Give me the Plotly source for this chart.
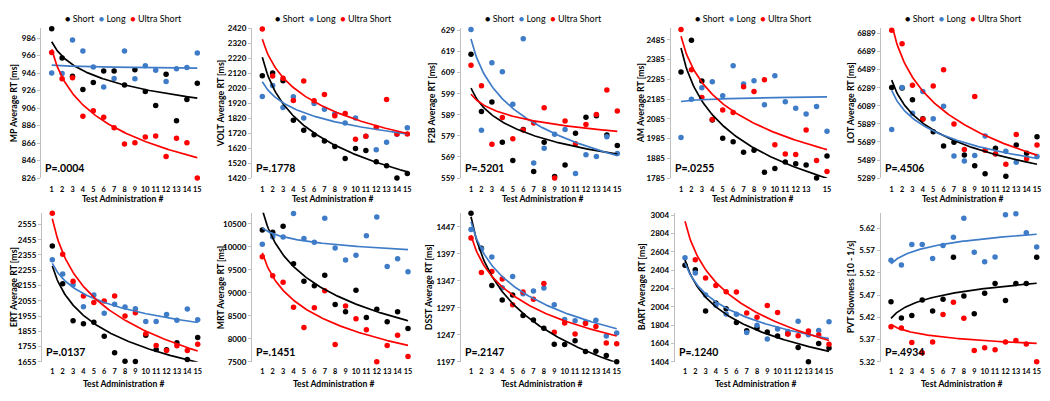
import numpy as np
import plotly.graph_objects as go

# ---------------- data ----------------
admin = list(range(1, 16))
series_names = ["Short", "Long", "Ultra Short"]

mp_short = [996.5, 963.3, 942.4, 927.1, 935.3, 948.3, 948.3, 932.3, 949.8, 924.8, 908.8, 944.6, 891.6, 915.9, 934.2]
mp_long = [946.1, 945.4, 983.8, 971.1, 952.8, 930.1, 939.8, 971.1, 939.4, 954.3, 949.1, 936.4, 951.0, 952.4, 968.9]
mp_ultra = [969.6, 939.4, 940.5, 896.5, 902.8, 895.4, 883.4, 864.8, 866.3, 873.0, 874.1, 850.6, 871.5, 866.3, 826.0]

volt_short = [2104, 2122, 2070, 1806, 1740, 1710, 1668, 1631, 1551, 1618, 1605, 1529, 1503, 1420, 1450]
volt_long = [1965, 2039, 1891, 1963, 1821, 1919, 1880, 1849, 1788, 1821, 1699, 1610, 1660, 1712, 1756]
volt_ultra = [2416, 2102, 2087, 1939, 2069, 1936, 1978, 1836, 1851, 1679, 1699, 1758, 1945, 1714, 1714]

f2b_short = [617.7, 590.6, 595.1, 576.0, 567.3, 582.0, 562.1, 576.0, 559.8, 565.2, 580.3, 587.8, 588.6, 579.4, 574.4]
f2b_long = [629.5, 581.7, 613.7, 609.4, 594.0, 625.1, 566.1, 573.2, 579.8, 582.1, 561.2, 570.1, 569.2, 578.6, 570.7]
f2b_ultra = [612.5, 602.8, 575.0, 587.7, 577.7, 581.8, 585.1, 592.3, 559.0, 586.1, 575.3, 584.4, 589.2, 600.8, 590.8]

am_short = [2322, 2483, 2276, 2079, 1987, 1969, 1916, 1926, 1815, 1833, 1867, 1857, 1851, 1785, 1897]
am_long = [1990, 2184, 2243, 2273, 2202, 2354, 2262, 2278, 2156, 2303, 2171, 2138, 2110, 2147, 2022]
am_ultra = [2538, 2334, 2193, 2082, 2130, 2117, 2248, 2224, 2283, 1954, 1907, 1905, 2028, 1874, 1818]

lot_short = [6291, 6285, 6155, 5945, 5801, 5643, 5686, 5543, 5425, 5336, 5618, 5310, 5654, 5565, 5747]
lot_long = [5826, 6291, 6005, 6248, 5944, 6084, 5532, 5479, 5540, 5754, 5557, 5586, 5464, 5285, 5529]
lot_ultra = [6925, 6774, 6316, 5940, 6309, 6488, 5887, 5604, 6191, 5597, 5554, 5443, 5772, 5504, 5654]

ert_short = [2414, 2166, 1924, 1905, 1914, 1822, 1715, 1659, 1657, 1830, 1736, 1734, 1781, 1670, 1815]
ert_long = [2324, 2230, 2160, 2016, 2093, 1974, 2033, 2014, 2003, 1920, 1920, 1965, 1927, 2001, 1931]
ert_ultra = [2628, 2360, 2183, 2087, 2044, 2053, 2087, 1956, 1976, 1839, 1762, 1730, 1760, 1730, 1770]

mrt_short = [10366, 10317, 10444, 9629, 9249, 9151, 9383, 8744, 8589, 9053, 8463, 8645, 8371, 8589, 8224]
mrt_long = [10057, 10219, 10212, 10725, 10177, 10100, 10619, 9973, 9713, 9818, 10240, 10648, 9573, 9741, 9460]
mrt_ultra = [9783, 9369, 9228, 8687, 8245, 8673, 9046, 7879, 8715, 8434, 8196, 7500, 7858, 8076, 7619]

dsst_short = [1472, 1407, 1338.5, 1311.5, 1320.5, 1282.7, 1274.3, 1259.4, 1229.4, 1229, 1236, 1216.2, 1216.8, 1209, 1197]
dsst_long = [1442, 1406, 1391, 1334, 1355, 1323, 1328, 1333.7, 1302.5, 1275.5, 1273, 1270, 1274, 1245, 1250.4]
dsst_ultra = [1426, 1362.5, 1364, 1350.5, 1302.5, 1326.5, 1312.7, 1342, 1251.6, 1269, 1248.6, 1268, 1262.3, 1231.8, 1230.6]

bart_short = [2458, 2408, 1958, 2047, 1983, 1833, 1743, 1772, 1729, 1686, 1711, 1561, 1404, 1604, 1554]
bart_long = [2540, 2372, 2133, 2022, 1925, 1922, 1725, 1804, 1654, 1761, 1736, 1847, 1700, 1747, 1840]
bart_ultra = [3040, 2518, 2318, 2236, 2168, 2165, 1936, 1890, 2018, 1943, 1708, 1690, 1740, 1697, 1597]

pvt_short = [5.4548, 5.4186, 5.4243, 5.4591, 5.4345, 5.4606, 5.5548, 5.4678, 5.4280, 5.4743, 5.4961, 5.4577, 5.4961, 5.4961, 5.5548]
pvt_long = [5.5483, 5.5374, 5.5838, 5.5838, 5.5519, 5.5816, 5.5997, 5.6425, 5.5664, 5.5446, 5.5555, 5.6504, 5.6526, 5.6099, 5.5780]
pvt_ultra = [5.3990, 5.3961, 5.3635, 5.3403, 5.3649, 5.4265, 5.4540, 5.4178, 5.3454, 5.3519, 5.3475, 5.3649, 5.3678, 5.3599, 5.3200]

y_titles = ["MP Average RT [ms]", "VOLT Average RT [ms]", "F2B Average RT [ms]", "AM Average RT [ms]",
            "LOT Average RT [ms]", "ERT Average RT [ms]", "MRT Average RT [ms]", "DSST Average RT [ms]",
            "BART Average RT [ms]", "PVT Slowness [10 - 1/s]"]
p_values = ["P=.0004", "P=.1778", "P=.5201", "P=.0255", "P=.4506",
            "P=.0137", "P=.1451", "P=.2147", "P=.1240", "P=.4934"]
x_title = "Test Administration #"

all_data = [
    (mp_short, mp_long, mp_ultra), (volt_short, volt_long, volt_ultra), (f2b_short, f2b_long, f2b_ultra),
    (am_short, am_long, am_ultra), (lot_short, lot_long, lot_ultra), (ert_short, ert_long, ert_ultra),
    (mrt_short, mrt_long, mrt_ultra), (dsst_short, dsst_long, dsst_ultra), (bart_short, bart_long, bart_ultra),
    (pvt_short, pvt_long, pvt_ultra),
]

# ---------------- layout / style ----------------
W, H = 1050, 401
FONT = "Lato, 'Liberation Sans', Arial, sans-serif"
colors = ["#000000", "#3F7CC8", "#FF0000"]

# axis scale settings (min, max, step, format)
y_axes = [(826, 997, 20, "d"), (1420, 2420, 100, "d"), (559, 630, 10, "d"), (1785, 2543, 100, "d"),
          (5289, 6945, 200, "d"), (1655, 2632, 100, "d"), (7500, 10740, 500, "d"), (1197, 1473, 50, "d"),
          (1404, 3030, 200, "d"), (5.32, 5.655, 0.05, ".2f")]
# pixel x-positions of admin 1 and admin 15 per panel
px_first = [51.7, 262.3, 471, 681, 891.7, 52.3, 262.3, 471, 685, 891]
px_last = [197.3, 407.3, 617.3, 827, 1037, 197.7, 408, 616.7, 829, 1036.7]
row_px = [(24, 177.5), (213, 366)]
ytitle_px = [13, 220, 431, 640, 850, 13, 220, 428, 641, 850]

fig = go.Figure()
layout = dict(width=W, height=H, margin=dict(l=0, r=0, t=0, b=0),
              paper_bgcolor="white", plot_bgcolor="white", showlegend=False,
              font=dict(family=FONT, color="#000000"))
annotations = []

xfit = np.linspace(1, 15, 120)
for i, data in enumerate(all_data):
    ax = "" if i == 0 else str(i + 1)
    row = i // 5
    top_px, bot_px = row_px[row]
    unit = (px_last[i] - px_first[i]) / 14
    left = px_first[i] - unit
    right = px_last[i] + 0.5 * unit
    ymin, ymax, step, fmt = y_axes[i]

    for s, vals in enumerate(data):
        fig.add_trace(go.Scatter(x=admin, y=vals, mode="markers", name=series_names[s],
                                 marker=dict(color=colors[s], size=5.5), cliponaxis=False,
                                 xaxis="x" + ax, yaxis="y" + ax))
    for s, vals in enumerate(data):
        b, a = np.polyfit(np.log(admin), np.array(vals, dtype=float), 1)
        fig.add_trace(go.Scatter(x=xfit, y=a + b * np.log(xfit), mode="lines",
                                 line=dict(color=colors[s], width=1.7), hoverinfo="skip",
                                 xaxis="x" + ax, yaxis="y" + ax))

    xt = [v for v in admin if not (i == 3 and v == 14)]
    layout["xaxis" + ax] = dict(domain=[left / W, right / W], range=[0, 15.5], anchor="y" + ax,
                                showline=False, showgrid=False, zeroline=False,
                                tickmode="array", tickvals=xt, ticktext=[str(v) for v in xt],
                                tickangle=0,
                                ticks="outside", ticklen=4 if row == 0 else 2, tickcolor="rgba(0,0,0,0)",
                                tickfont=dict(family=FONT, size=7.3, weight="bold"))
    layout["yaxis" + ax] = dict(domain=[1 - bot_px / H, 1 - top_px / H], range=[ymin, ymax], anchor="x" + ax,
                                showline=True, linecolor="#BFBFBF", linewidth=1, showgrid=False, zeroline=False,
                                tickmode="linear", tick0=ymin, dtick=step, tickformat=fmt,
                                ticks="outside", ticklen=3, tickcolor="#BFBFBF",
                                tickfont=dict(family=FONT, size=8, weight="bold"))

    xmid = (px_first[i] + px_last[i]) / 2
    # y-axis title
    annotations.append(dict(text="<b>%s</b>" % y_titles[i], xref="paper", yref="paper",
                            x=ytitle_px[i] / W, y=1 - ((top_px + bot_px) / 2) / H, textangle=-90,
                            showarrow=False, xanchor="center", yanchor="middle",
                            font=dict(family=FONT, size=8.8)))
    # x-axis title
    annotations.append(dict(text="<b>%s</b>" % x_title, xref="paper", yref="paper",
                            x=(xmid - 2) / W, y=1 - (199 if row == 0 else 389) / H,
                            showarrow=False, xanchor="center", yanchor="middle",
                            font=dict(family=FONT, size=8.6)))
    # p-value
    annotations.append(dict(text="<b>%s</b>" % p_values[i], xref="paper", yref="paper",
                            x=(left + 2) / W, y=1 - (167 if row == 0 else 356) / H,
                            showarrow=False, xanchor="left", yanchor="middle",
                            font=dict(family=FONT, size=10.5)))
    # legend (top row only)
    if row == 0:
        parts = ['<span style="color:%s">\u25CF</span> %s' % (colors[s], series_names[s]) for s in range(3)]
        annotations.append(dict(text="&nbsp;&nbsp;".join(parts), xref="paper", yref="paper",
                                x=(xmid - 1) / W, y=1 - 13.5 / H, showarrow=False,
                                xanchor="center", yanchor="middle",
                                font=dict(family=FONT, size=9, color="#000000")))

layout["annotations"] = annotations
fig.update_layout(**layout)
fig.write_html("out.html", config={"displayModeBar": False},
               post_script="document.body.style.margin='0';document.body.style.overflow='hidden';")
